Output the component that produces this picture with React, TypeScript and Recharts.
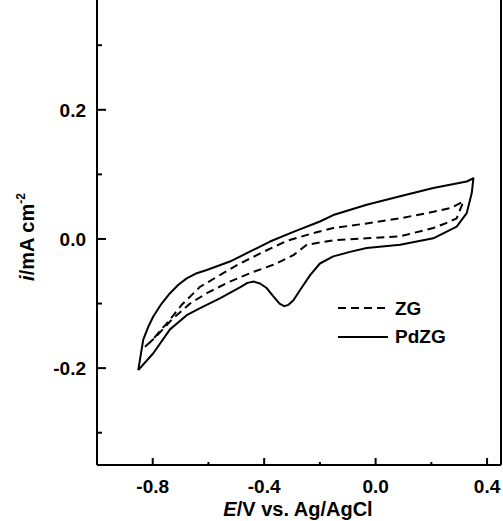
import { LineChart, Line, XAxis, YAxis, ReferenceLine } from "recharts";

// potential (V vs Ag/AgCl) and current density (mA cm-2), one closed loop per sample
const zgE = [
  -0.828, -0.804, -0.775, -0.75, -0.696, -0.63, -0.559, -0.487, -0.403, -0.319, -0.224, -0.152, -0.032, 0.088, 0.207, 0.27, 0.315,
  0.291, 0.25, 0.207, 0.088, -0.032, -0.152, -0.247, -0.295, -0.367, -0.439, -0.523, -0.606, -0.666, -0.732, -0.792, -0.828,
];
const zgI = [
  -0.167, -0.158, -0.143, -0.131, -0.102, -0.074, -0.056, -0.038, -0.02, -0.003, 0.009, 0.017, 0.024, 0.032, 0.042, 0.048, 0.058,
  0.032, 0.024, 0.017, 0.004, 0.001, -0.002, -0.009, -0.025, -0.04, -0.051, -0.066, -0.084, -0.1, -0.125, -0.153, -0.167,
];
const pdE = [
  -0.852, -0.834, -0.816, -0.798, -0.768, -0.738, -0.708, -0.678, -0.642, -0.606, -0.523, -0.439, -0.379, -0.295, -0.2, -0.152,
  -0.032, 0.088, 0.207, 0.327, 0.351,
  0.345, 0.327, 0.291, 0.207, 0.088, -0.032, -0.092, -0.152, -0.2, -0.235, -0.271, -0.295, -0.313, -0.328, -0.345, -0.367, -0.391,
  -0.415, -0.437, -0.46, -0.487, -0.559, -0.63, -0.678, -0.738, -0.798, -0.852,
];
const pdI = [
  -0.203, -0.156, -0.136, -0.12, -0.1, -0.084, -0.071, -0.061, -0.053, -0.048, -0.035, -0.017, -0.004, 0.011, 0.027, 0.037,
  0.053, 0.066, 0.079, 0.089, 0.094,
  0.071, 0.04, 0.019, 0.001, -0.009, -0.014, -0.02, -0.027, -0.038, -0.056, -0.079, -0.095, -0.102, -0.104, -0.1, -0.089, -0.076,
  -0.069, -0.066, -0.068, -0.075, -0.092, -0.107, -0.118, -0.14, -0.177, -0.203,
];

const xTicks = [-0.8, -0.6, -0.4, -0.2, 0, 0.2, 0.4];
const xLabels = [-0.8, -0.4, 0, 0.4];
const yTicks = [-0.3, -0.2, -0.1, 0, 0.1, 0.2, 0.3];
const yLabels = [-0.2, 0, 0.2];

const zgData = zgE.map((x, i) => ({ x, y: zgI[i] }));
const pdData = pdE.map((x, i) => ({ x, y: pdI[i] }));

const font = "'Liberation Sans', Arial, sans-serif";

const XTick = (props: any) => {
  const { x, y, payload } = props;
  const major = xLabels.some((v) => Math.abs(v - payload.value) < 1e-6);
  return (
    <g>
      <line x1={x} x2={x} y1={y} y2={y - (major ? 7 : 3)} stroke="#000" strokeWidth={2} />
      {major && (
        <text x={x} y={y + 28} textAnchor="middle" fontSize={19} fontWeight="bold" fontFamily={font} fill="#000">
          {payload.value.toFixed(1)}
        </text>
      )}
    </g>
  );
};

const YTick = (props: any) => {
  const { x, y, payload } = props;
  const major = yLabels.some((v) => Math.abs(v - payload.value) < 1e-6);
  return (
    <g>
      <line x1={x} x2={x + (major ? 9 : 5)} y1={y} y2={y} stroke="#000" strokeWidth={2} />
      {major && (
        <text x={x - 11} y={y + 7} textAnchor="end" fontSize={19} fontWeight="bold" fontFamily={font} fill="#000">
          {payload.value.toFixed(1)}
        </text>
      )}
    </g>
  );
};

export default function App() {
  return (
    <div style={{ position: "absolute", left: 0, top: 0, width: 503, height: 521, background: "#fff" }}>
      <LineChart width={503} height={521} margin={{ top: 0, right: 2, bottom: 0, left: 0 }}>
        <XAxis
          type="number"
          dataKey="x"
          domain={[-1.0, 0.45]}
          ticks={xTicks}
          allowDataOverflow
          height={56}
          tickSize={0}
          tickMargin={0}
          tickLine={false}
          axisLine={{ stroke: "#000", strokeWidth: 2 }}
          tick={<XTick />}
          interval={0}
        />
        <YAxis
          type="number"
          domain={[-0.35, 0.37]}
          ticks={yTicks}
          allowDataOverflow
          width={97}
          tickSize={0}
          tickMargin={0}
          tickLine={false}
          axisLine={{ stroke: "#000", strokeWidth: 2 }}
          tick={<YTick />}
          interval={0}
        />
        <ReferenceLine x={0.45} stroke="#000" strokeWidth={2} ifOverflow="visible" />
        <Line
          data={zgData}
          dataKey="y"
          name="ZG"
          type="linear"
          stroke="#000"
          strokeWidth={2}
          strokeDasharray="8 5"
          strokeLinejoin="round"
          dot={false}
          isAnimationActive={false}
        />
        <Line
          data={pdData}
          dataKey="y"
          name="PdZG"
          type="linear"
          stroke="#000"
          strokeWidth={2}
          strokeLinejoin="round"
          dot={false}
          isAnimationActive={false}
        />
      </LineChart>
      <svg width={503} height={521} style={{ position: "absolute", left: 0, top: 0, pointerEvents: "none" }}>
        <text
          transform="translate(34, 237) rotate(-90)"
          textAnchor="middle"
          fontSize={20}
          fontWeight="bold"
          fontFamily={font}
        >
          <tspan fontStyle="italic">i</tspan>/mA cm<tspan fontSize={12} dy={-9}>-2</tspan>
        </text>
        <text x={298} y={516} textAnchor="middle" fontSize={20} fontWeight="bold" fontFamily={font}>
          <tspan fontStyle="italic">E</tspan>/V vs. Ag/AgCl
        </text>
        <g fontSize={19} fontWeight="bold" fontFamily={font}>
          <line x1={338} x2={388} y1={308} y2={308} stroke="#000" strokeWidth={2} strokeDasharray="8 5" />
          <text x={395} y={315}>ZG</text>
          <line x1={338} x2={388} y1={337} y2={337} stroke="#000" strokeWidth={2} />
          <text x={395} y={343}>PdZG</text>
        </g>
      </svg>
    </div>
  );
}
